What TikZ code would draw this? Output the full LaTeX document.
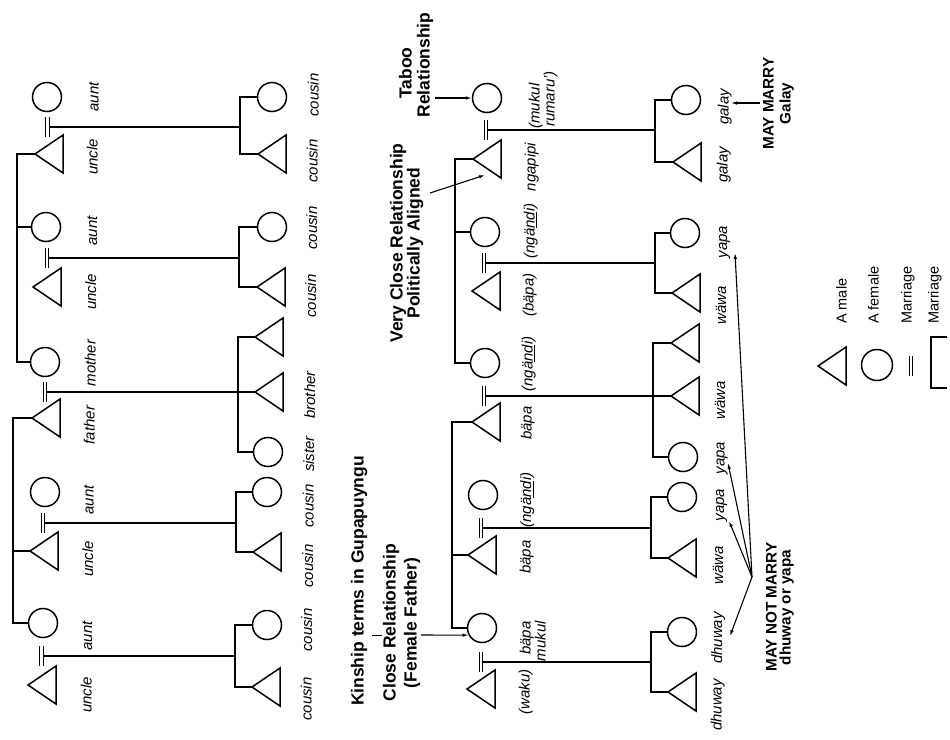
\documentclass[tikz,border=0pt]{standalone}
\usepackage{fontspec}
\setmainfont{Liberation Sans}
\usetikzlibrary{arrows.meta}
\newcommand\kmale[3]{\coordinate (#1) at (#2,#3); \draw[sym] (#1) -- ++(28,-19) -- ++(0,38) -- cycle;}
\newcommand\kfem[3]{\node[fem] (#1) at (#2,#3) {};}
\newcommand\kmarr[3]{\coordinate (#1) at (#2,#3); \draw[mline] ([shift={(-0.4,-10)}]#1) -- ++(0,20) ([shift={(-3.9,-10)}]#1) -- ++(0,20);}
\begin{document}
\begin{tikzpicture}[x=1pt,y=-1pt,
  line/.style={line width=1.8pt},
  sym/.style={line width=1.5pt, line join=miter},
  fem/.style={circle, draw, line width=1.5pt, minimum size=29pt, inner sep=0pt},
  mline/.style={line width=1.2pt},
  arr/.style={line width=1.1pt, -{Latex[length=6pt,width=3.6pt]}},
  lab/.style={rotate=90, anchor=mid, inner sep=0pt, font=\itshape\fontsize{15}{15}\selectfont},
  head/.style={rotate=90, anchor=mid, inner sep=0pt, font=\bfseries\fontsize{17.5}{20}\selectfont},
  mhead/.style={rotate=90, anchor=mid, inner sep=0pt, font=\bfseries\fontsize{15.3}{17}\selectfont},
  leg/.style={rotate=90, anchor=mid west, inner sep=0pt, font=\fontsize{14.5}{15}\selectfont}]
\useasboundingbox (0,0) rectangle (950,739);
\fill[white] (0,0) rectangle (950,739);

% ---------------- upper (English) chart ----------------
\kfem{ta1}{47}{97}
\kmale{tu1}{35}{154}
\kfem{ta2}{46}{227}
\kmale{tu2}{33}{287}
\kfem{tmo}{45}{362}
\kmale{tfa}{32}{418}
\kfem{ta3}{45}{492}
\kmale{tu3}{30}{551}
\kfem{ta4}{43}{623}
\kmale{tu4}{28}{685}

\kmarr{tm1}{49.5}{127}
\kmarr{tm2}{49}{258}
\kmarr{tm3}{47}{392}
\kmarr{tm4}{45}{523}
\kmarr{tm5}{43.5}{656}

% sibling lines
\coordinate (tsm) at (17,0);
\draw[line] (tu1) -- (tu1 -| tsm) -- (tmo.west -| tsm) -- (tmo.west);
\draw[line] (ta2.west) -- (ta2.west -| tsm);
\coordinate (tsf) at (13,0);
\draw[line] (tfa) -- (tfa -| tsf) -- (ta4.west -| tsf) -- (ta4.west);
\draw[line] (tu3) -- (tu3 -| tsf);

% children
\kfem{tc1}{272}{97}
\kmale{tc2}{258}{154}
\kfem{tc3}{272}{227}
\kmale{tc4}{257}{287}
\kmale{tc5}{255}{337}
\kmale{tc6}{255}{392}
\kfem{tc7}{268}{452}
\kfem{tc8}{267}{492}
\kmale{tc9}{253}{552}
\kfem{tc10}{267}{625}
\kmale{tc11}{252}{687}

\coordinate (ts1) at (240,127);
\coordinate (ts2) at (239,258);
\coordinate (ts3) at (238,392);
\coordinate (ts4) at (236,523);
\coordinate (ts5) at (235,656);
\draw[line] (tm1) -- (ts1);
\draw[line] (tm2) -- (ts2);
\draw[line] (tm3) -- (ts3) -- (tc6);
\draw[line] (tm4) -- (ts4);
\draw[line] (tm5) -- (ts5);
\draw[line] (tc1.west) -- (tc1.west -| ts1) -- (tc2 -| ts1) -- (tc2);
\draw[line] (tc3.west) -- (tc3.west -| ts2) -- (tc4 -| ts2) -- (tc4);
\draw[line] (tc5) -- (tc5 -| ts3) -- (tc7.west -| ts3) -- (tc7.west);
\draw[line] (tc8.west) -- (tc8.west -| ts4) -- (tc9 -| ts4) -- (tc9);
\draw[line] (tc10.west) -- (tc10.west -| ts5) -- (tc11 -| ts5) -- (tc11);

% labels
\node[lab] (l1) at (96,97) {aunt};
\node[lab] (l2) at (95,157) {uncle};
\node[lab] (l3) at (94.5,231) {aunt};
\node[lab] (l4) at (93.5,292) {uncle};
\node[lab] (l5) at (93,363) {mother};
\node[lab] (l6) at (92,425) {father};
\node[lab] (l7) at (91,500) {aunt};
\node[lab] (l8) at (90.5,559) {uncle};
\node[lab] (l9) at (89.5,636) {aunt};
\node[lab] (l10) at (89,695) {uncle};

\node[lab] (k1) at (316,95) {cousin};
\node[lab] (k2) at (315,161) {cousin};
\node[lab] (k3) at (314.5,228) {cousin};
\node[lab] (k4) at (313.5,296) {cousin};
\node[lab] (k5) at (312.5,395) {brother};
\node[lab] (k6) at (311.5,454) {sister};
\node[lab] (k7) at (311,506) {cousin};
\node[lab] (k8) at (310.5,566) {cousin};
\node[lab] (k9) at (309.5,630) {cousin};
\node[lab] (k10) at (309,699) {cousin};

% ---------------- lower (Gupapuyngu) chart ----------------
\kfem{p1}{487}{98}
\kmale{p2}{473}{159}
\kfem{p3}{485}{232}
\kmale{p4}{472}{291}
\kfem{p5}{485}{363}
\kmale{p6}{472}{422}
\kfem{p7}{483}{495}
\kmale{p8}{468}{555}
\kfem{p9}{482}{628}
\kmale{p10}{467}{689}

\kmarr{pm1}{488}{130}
\kmarr{pm2}{486}{263}
\kmarr{pm3}{486}{396}
\kmarr{pm4}{483}{528}
\kmarr{pm5}{483}{662}

\coordinate (ps1) at (455,0);
\draw[line] (p2) -- (p2 -| ps1) -- (p5.west -| ps1) -- (p5.west);
\draw[line] (p3.west) -- (p3.west -| ps1);
\coordinate (ps2) at (452,0);
\draw[line] (p6) -- (p6 -| ps2) -- (p9.west -| ps2) -- (p9.west);
\draw[line] (p8) -- (p8 -| ps2);

\kfem{q1}{686}{100}
\kmale{q2}{673}{162}
\kfem{q3}{685}{233}
\kmale{q4}{672}{293}
\kmale{q5}{671}{343}
\kmale{q6}{671}{396}
\kfem{q7}{683}{457}
\kfem{q8}{682}{497}
\kmale{q9}{668}{558}
\kfem{q10}{682}{632}
\kmale{q11}{668}{692}

\coordinate (qs1) at (655,130);
\coordinate (qs2) at (655,263);
\coordinate (qs3) at (653,396);
\coordinate (qs4) at (651,528);
\coordinate (qs5) at (651,662);
\draw[line] (pm1) -- (qs1);
\draw[line] (pm2) -- (qs2);
\draw[line] (pm3) -- (qs3) -- (q6);
\draw[line] (pm4) -- (qs4);
\draw[line] (pm5) -- (qs5);
\draw[line] (q1.west) -- (q1.west -| qs1) -- (q2 -| qs1) -- (q2);
\draw[line] (q3.west) -- (q3.west -| qs2) -- (q4 -| qs2) -- (q4);
\draw[line] (q5) -- (q5 -| qs3) -- (q7.west -| qs3) -- (q7.west);
\draw[line] (q8.west) -- (q8.west -| qs4) -- (q9 -| qs4) -- (q9);
\draw[line] (q10.west) -- (q10.west -| qs5) -- (q11 -| qs5) -- (q11);

% parent labels
\node[lab] (r1a) at (537,106) {(mukul};
\node[lab] (r1b) at (552,99) {rumaru')};
\node[lab] (r2) at (533,167) {ngapipi};
\node[lab] (r3) at (532,231) {(ngä\underline{nd}i)};
\node[lab] (r4) at (531,295) {(bäpa)};
\node[lab] (r5) at (530,364) {(ngä\underline{nd}i)};
\node[lab] (r6) at (529,423) {bäpa};
\node[lab] (r7) at (528.5,500) {(ngä\underline{nd}i)};
\node[lab] (r8) at (528,557) {bäpa};
\node[lab] (r9a) at (528,638) {bäpa};
\node[lab] (r9b) at (543,641) {mukul};
\node[lab] (r10) at (527,692) {(waku)};

% children labels
\node[lab] (s1) at (726,107) {galay};
\node[lab] (s2) at (725,165) {galay};
\node[lab] (s3) at (724.5,242) {yapa};
\node[lab] (s4) at (723.5,305) {wäwa};
\node[lab] (s5) at (722.5,400) {wäwa};
\node[lab] (s6) at (722,458) {yapa};
\node[lab] (s7) at (721.5,505) {yapa};
\node[lab] (s8) at (720.5,565) {wäwa};
\node[lab] (s9) at (719.5,638) {dhuway};
\node[lab] (s10) at (719,705) {dhuway};

% headings and notes
\node[head] (h1) at (361,581) {Kinship terms in Gupapuyngu};
\coordinate (dsA) at (372,635); \coordinate (dsB) at (382,635);
\draw[line width=1pt] (dsA) -- (dsB);
\node[head] (h2) at (393,622.5) {Close Relationship};
\node[head] (h3) at (414,623) {(Female Father)};
\coordinate (crA) at (421,635);
\draw[arr] (crA) -- (p9.208);

\node[head] (h4) at (400,243) {Very Close Relationship};
\node[head] (h5) at (417,243) {Politically Aligned};
\coordinate (vcA) at (430,193); \coordinate (vcB) at (485,175);
\draw[arr] (vcA) -- (vcB);

\node[head] (h6) at (409,73) {Taboo};
\node[head] (h7) at (427,65) {Relationship};
\coordinate (tbA) at (435,98);
\draw[arr] (tbA) -- (p1.west);

\node[mhead] (h8) at (771,103.5) {MAY MARRY};
\node[mhead] (h9) at (788,103.5) {Galay};
\coordinate (mmA) at (760,103); \coordinate (mmB) at (731,103);
\draw[arr] (mmA) -- (mmB);

\node[mhead] (h10) at (774,607) {MAY NOT MARRY};
\node[mhead] (h11) at (788,607.5) {dhuway or yapa};
\coordinate (mnm) at (752,577);
\coordinate (t1) at (730,636);
\coordinate (t2) at (729,521);
\coordinate (t3) at (728,463);
\coordinate (t4) at (735,253);
\draw[arr] (mnm) -- (t1);
\draw[arr] (mnm) -- (t2);
\draw[arr] (mnm) -- (t3);
\draw[arr] (mnm) -- (t4);

% ---------------- legend ----------------
\kmale{lm}{818}{366}
\node[fem, minimum size=31pt] (lf) at (877,365) {};
\kmarr{lq}{913}{366}
\coordinate (lb) at (931,362);
\draw[line, line join=miter] (947,337) -- (937,337) -| (lb) |- (947,388);
\node[leg] (g1) at (844,324) {A male};
\node[leg] (g2) at (876,324) {A female};
\node[leg] (g3) at (909,324) {Marriage};
\node[leg] (g4) at (936,324) {Marriage};
\end{tikzpicture}
\end{document}
